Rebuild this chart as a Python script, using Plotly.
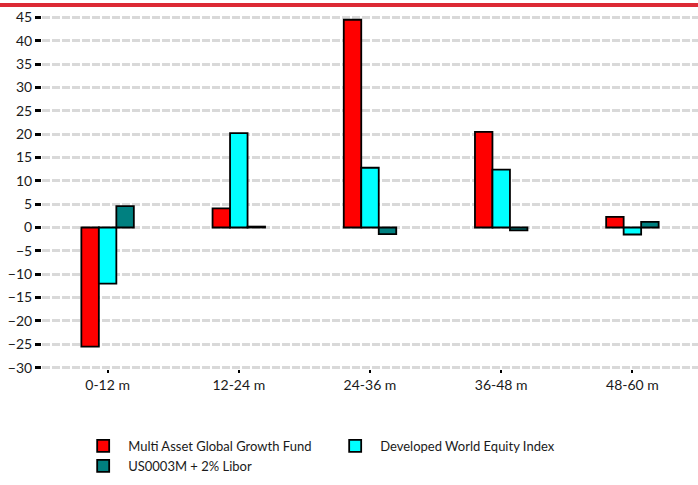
import plotly.graph_objects as go

categories = ["0-12 m", "12-24 m", "24-36 m", "36-48 m", "48-60 m"]
fund = [-25.5, 4.1, 44.5, 20.5, 2.3]
equity = [-12.0, 20.2, 12.8, 12.4, -1.5]
libor = [4.6, 0.2, -1.4, -0.6, 1.2]
series_names = ["Multi Asset Global Growth Fund", "Developed World Equity Index", "US0003M + 2% Libor"]
colors = ["#ff0000", "#00ffff", "#008080"]
y_ticks = list(range(-30, 50, 5))

FONT = "Lato, 'Open Sans', sans-serif"

fig = go.Figure()
for name, vals, col in zip(series_names, [fund, equity, libor], colors):
    fig.add_trace(go.Bar(
        x=categories, y=vals, name=name,
        marker=dict(color=col, line=dict(color="#000000", width=1.8)),
    ))

fig.update_layout(
    width=698, height=485,
    margin=dict(l=42, r=0, t=16, b=116),
    paper_bgcolor="white", plot_bgcolor="white",
    barmode="group", bargap=0.6, bargroupgap=0,
    font=dict(family=FONT, size=13, color="#1a1a1a"),
    showlegend=True,
    legend=dict(
        orientation="h", xref="container", yref="container",
        x=0.112, y=1 - 431 / 485, xanchor="left", yanchor="top",
        font=dict(family=FONT, size=13, color="#1a1a1a"),
        entrywidth=197, entrywidthmode="pixels",
        tracegroupgap=0, itemwidth=40,
    ),
    xaxis=dict(
        showgrid=False, zeroline=False, showline=False,
        ticks="outside", ticklen=3, tickwidth=2, tickcolor="#000000",
        tickfont=dict(family=FONT, size=14, color="#1a1a1a"),
    ),
    yaxis=dict(
        range=[-30.3, 45.3], tickvals=y_ticks,
        showgrid=True, gridcolor="#d9d9d9", gridwidth=3, griddash="8px,2px",
        zeroline=False, showline=False,
        ticks="outside", ticklen=6, tickwidth=3, tickcolor="#000000",
        tickfont=dict(family=FONT, size=14, color="#1a1a1a"),
    ),
    shapes=[dict(
        type="line", xref="paper", yref="paper",
        x0=-0.07, x1=1.0, y0=1.0 + 11 / 353, y1=1.0 + 11 / 353,
        line=dict(color="#dc2a35", width=4),
    )],
)

fig.write_html("out.html")
